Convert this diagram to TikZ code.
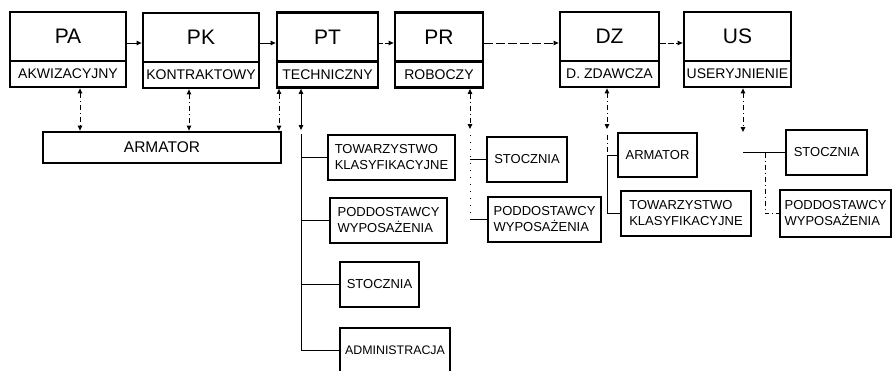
\documentclass[tikz,border=0pt]{standalone}
\usepackage{fontspec}
\setmainfont{Liberation Sans}
\usetikzlibrary{arrows.meta}
\begin{document}
\begin{tikzpicture}[x=1pt,y=-1pt,
  box/.style={draw,line width=2.8pt,inner sep=0pt,font=\fontsize{13}{16}\selectfont,align=left},
  topbox/.style={draw,line width=2.8pt,inner sep=0pt,minimum height=49pt,font=\fontsize{21}{24}\selectfont},
  subbox/.style={draw,line width=2.8pt,inner sep=0pt,minimum height=26pt,font=\fontsize{14}{16}\selectfont},
  conn/.style={line width=0.9pt},
  dd/.style={line width=0.9pt,dash pattern=on 5pt off 3pt on 1pt off 3pt},
  fdot/.style={line width=0.9pt,dash pattern=on 1pt off 6pt},
  tip/.style={-{Triangle[length=5pt,width=4.5pt]}},
  both/.style={{Triangle[length=5pt,width=4.5pt]}-{Triangle[length=5pt,width=4.5pt]}}
]
\useasboundingbox (0,0) rectangle (892,370);

% top row
\node[topbox,minimum width=116pt] (PA) at (68,36.5) {PA};
\node[subbox,minimum width=116pt] (PAs) at (68,74) {AKWIZACYJNY};
\node[topbox,minimum width=116pt] (PK) at (201,37.5) {PK};
\node[subbox,minimum width=116pt] (PKs) at (201,75) {KONTRAKTOWY};
\node[topbox,minimum width=101pt] (PT) at (327.5,37) {PT};
\node[subbox,minimum width=101pt] (PTs) at (327.5,74.5) {TECHNICZNY};
\node[topbox,minimum width=88pt] (PR) at (439,37) {PR};
\node[subbox,minimum width=88pt] (PRs) at (439,74.5) {ROBOCZY};
\node[topbox,minimum width=99pt] (DZ) at (609.5,36.5) {DZ};
\node[subbox,minimum width=99pt] (DZs) at (609.5,74) {D. ZDAWCZA};
\node[topbox,minimum width=107pt] (US) at (737.5,36.5) {US};
\node[subbox,minimum width=107pt] (USs) at (737.5,74) {USERYJNIENIE};

% top arrows
\draw[conn,tip] (PA.east |- 0,43) -- (PK.west |- 0,43);
\draw[conn,tip] (PK.east |- 0,43) -- (PT.west |- 0,43);
\draw[conn,tip,dash pattern=on 4pt off 2pt] (PT.east |- 0,43) -- (PR.west |- 0,43);
\draw[conn,tip,dash pattern=on 9pt off 3pt] (PR.east |- 0,43) -- (DZ.west |- 0,43);
\draw[conn,tip,dash pattern=on 6pt off 2pt] (DZ.east |- 0,43) -- (US.west |- 0,43);

% lower boxes
\node[box,minimum width=238pt,minimum height=31pt,font=\fontsize{15.5}{17}\selectfont] (ARM) at (162,147.5) {ARMATOR};

\node[box,minimum width=127pt,minimum height=45pt] (TK1) at (391.5,157.5) {TOWARZYSTWO\\KLASYFIKACYJNE};
\node[box,minimum width=117pt,minimum height=45pt] (PW1) at (388.5,220.5) {PODDOSTAWCY\\WYPOSAŻENIA};
\node[box,minimum width=79pt,minimum height=45pt] (ST1) at (379.5,284.5) {STOCZNIA};
\node[box,minimum width=110pt,minimum height=44pt,font=\fontsize{12.4}{15}\selectfont] (AD1) at (395,350) {ADMINISTRACJA};

\node[box,minimum width=80pt,minimum height=45pt] (ST2) at (527,159.5) {STOCZNIA};
\node[box,minimum width=113pt,minimum height=45pt] (PW2) at (544.5,219.5) {PODDOSTAWCY\\WYPOSAŻENIA};

\node[box,minimum width=79pt,minimum height=44pt] (AR2) at (657.5,155) {ARMATOR};
\node[box,minimum width=130pt,minimum height=45pt] (TK2) at (686,213.5) {TOWARZYSTWO\\KLASYFIKACYJNE};

\node[box,minimum width=81pt,minimum height=45pt] (ST3) at (826.5,152.5) {STOCZNIA};
\node[box,minimum width=111pt,minimum height=47pt] (PW3) at (835.5,213.5) {PODDOSTAWCY\\WYPOSAŻENIA};

% vertical connectors to ARMATOR
\draw[dd,both] (PAs.south -| 80,0) -- (ARM.north -| 80,0);
\draw[dd,both] (PKs.south -| 189,0) -- (ARM.north -| 189,0);
\draw[dd,both] (PTs.south -| 279,0) -- (ARM.north -| 279,0);

% PT group
\coordinate (ptA) at (301,130);
\coordinate (ptT) at (301,134);
\draw[conn,both] (PTs.south -| ptA) -- (ptA);
\draw[conn] (ptT) |- (AD1.west);
\draw[conn] (ptT |- TK1.west) -- (TK1.west);
\draw[conn] (ptT |- PW1.west) -- (PW1.west);
\draw[conn] (ptT |- ST1.west) -- (ST1.west);

% PR group
\coordinate (prA) at (470,129);
\coordinate (prT) at (470,135);
\draw[dd,both] (PRs.south -| prA) -- (prA);
\draw[fdot] (prT) -- (prT |- PW2.west);
\draw[conn] (prT |- ST2.west) -- (ST2.west);
\draw[conn] (prT |- PW2.west) -- (PW2.west);

% DZ group
\coordinate (dzA) at (607,129);
\coordinate (dzT) at (607,135);
\draw[dd,both] (DZs.south -| dzA) -- (dzA);
\draw[dd] (dzT) -- (dzT |- AR2.west);
\draw[conn] (AR2.west) -| (dzT |- TK2.west) -- (TK2.west);

% US group
\coordinate (usA) at (743,132);
\coordinate (usH) at (743,152.5);
\coordinate (usV) at (765,152.5);
\draw[dd,both] (USs.south -| usA) -- (usA);
\draw[conn] (usH) -- (ST3.west);
\draw[dd] (usV) |- (PW3.west);
\end{tikzpicture}
\end{document}
